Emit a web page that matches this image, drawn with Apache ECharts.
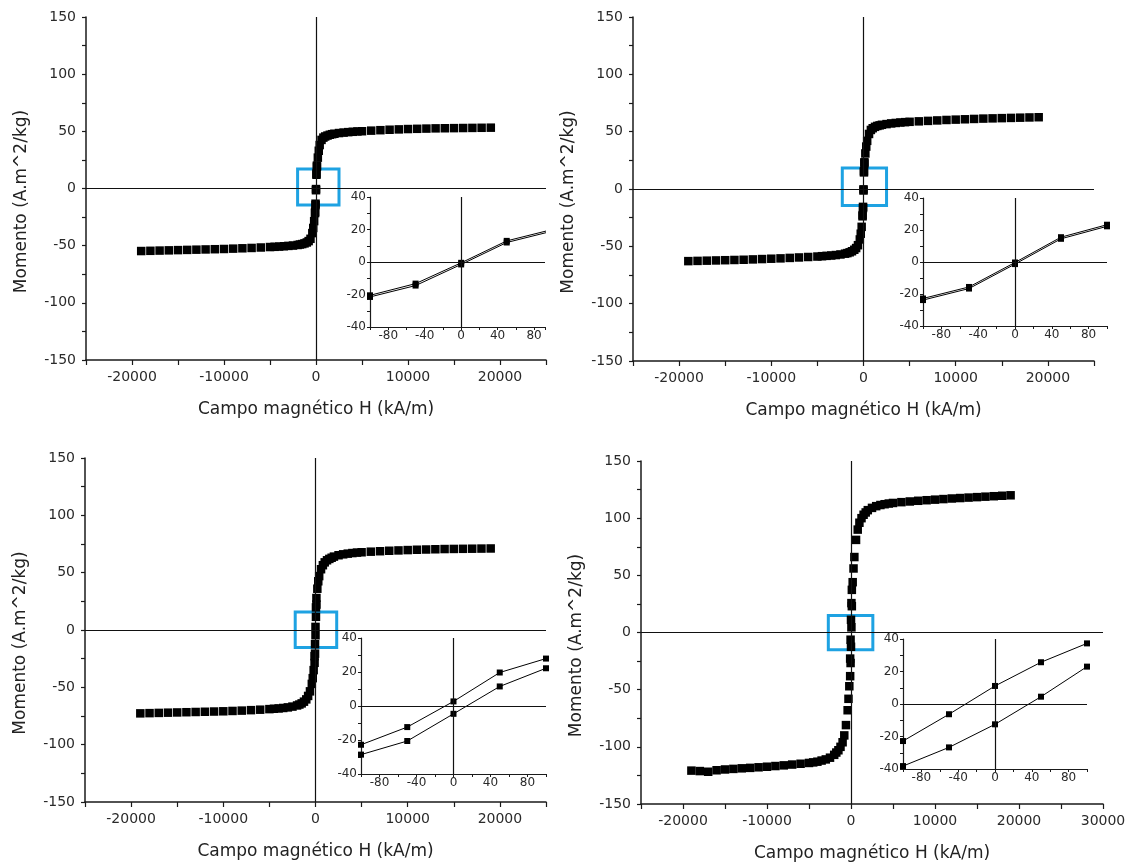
<!DOCTYPE html>
<html><head><meta charset="utf-8">
<script src="https://cdn.jsdelivr.net/npm/echarts/dist/echarts.min.js"></script>
<style>html,body{margin:0;padding:0;background:#fff}#c{width:1134px;height:865px}</style>
</head><body><div id="c"></div>
<script>
// Field values H (kA/m) of the main loops (points with |H| <= 100 come from the inset arrays)
const hMain = [-19000,-18000,-17000,-16000,-15000,-14000,-13000,-12000,-11000,-10000,-9000,-8000,-7000,-6000,-5000,
  -4500,-4000,-3500,-3000,-2500,-2000,-1750,-1500,-1250,-1000,-800,-600,-400,-300,-200,
  200,300,400,600,800,1000,1250,1500,1750,2000,2500,3000,3500,4000,4500,
  5000,6000,7000,8000,9000,10000,11000,12000,13000,14000,15000,16000,17000,18000,19000];
// Moment (A.m^2/kg), one array per panel
const momentA = [-54.7,-54.5,-54.3,-54.1,-53.9,-53.7,-53.5,-53.3,-53.1,-52.9,-52.6,-52.3,-52,-51.6,-51.2,
  -51,-50.8,-50.5,-50.2,-49.9,-49.4,-49,-48.6,-48,-47.2,-46,-44,-39,-34.5,-28.5,
  27,33,38,42.5,44.5,45.5,46.3,47,47.5,47.9,48.5,48.9,49.3,49.6,49.9,
  50.1,50.6,51,51.4,51.7,52,52.2,52.4,52.6,52.7,52.8,52.9,53,53.1,53.2];
const momentB = [-62.9,-62.7,-62.5,-62.3,-62.1,-61.9,-61.7,-61.4,-61.1,-60.8,-60.5,-60.1,-59.7,-59.3,-58.9,
  -58.6,-58.3,-58,-57.6,-57.1,-56.4,-55.9,-55.2,-54.3,-53,-51.5,-49,-44,-39,-33,
  31,37,42,48,51.5,53,54.2,55,55.5,56,56.6,57.2,57.6,58,58.3,
  58.6,59,59.4,59.8,60.2,60.5,60.8,61.1,61.4,61.6,61.8,62,62.2,62.4,62.6];
const momentC = [-72.7,-72.5,-72.3,-72.1,-71.9,-71.7,-71.5,-71.3,-71.1,-70.9,-70.6,-70.3,-69.9,-69.5,-69,
  -68.7,-68.4,-68,-67.5,-66.8,-65.8,-65,-64,-62.5,-60.5,-57.5,-53.5,-47,-42,-35,
  36,42.5,47,53,56.5,59,60.8,62,63,64,65.2,66,66.6,67.1,67.5,
  67.8,68.3,68.7,69.1,69.4,69.7,70,70.2,70.4,70.6,70.7,70.8,70.9,71,71.1];
const momentD = [-120.8,-121.2,-121.8,-120.5,-119.8,-119.3,-118.8,-118.4,-117.9,-117.4,-116.8,-116.2,-115.5,-114.8,-114.1,
  -113.6,-113,-112,-111,-109.5,-107,-105,-103,-100,-96,-90,-81,-68,-58,-47,
  44,56,66,81,90,96,100,103,105,107,109,110.5,111.5,112.2,112.8,
  113.3,114,114.6,115.2,115.7,116.2,116.7,117.2,117.6,118,118.4,118.8,119.2,119.6,120];
// Inset (zoom of the loop around the origin)
const hInset = [-100,-50,0,50,100];
const insetA_upper = [-20.5,-13.3,-0.5,13,20];
const insetA_lower = [-21.5,-14.5,-1.5,12,19];
const insetB_upper = [-22.8,-15.6,-0.3,15.5,23.3];
const insetB_lower = [-23.8,-16.6,-1.3,14.5,22.3];
const insetC_upper = [-22.8,-12.4,2.7,19.7,27.9];
const insetC_lower = [-28.6,-20.6,-4.6,11.5,22.2];
const insetD_upper = [-22.8,-6.3,11.1,25.7,37.3];
const insetD_lower = [-38.2,-26.7,-12.5,4.5,23];
// Zoom boxes [H1, H2, M1, M2]
const boxA = [-2000,2500,-14.5,17];
const boxB = [-2300,2500,-14.3,18.3];
const boxC = [-2200,2300,-15.2,15.7];
const boxD = [-2700,2600,-15.1,14.8];
// Tick labels
const yTickLabelsMain = [-150,-100,-50,0,50,100,150];
const xTickLabelsMain = [-20000,-10000,0,10000,20000];
const xTickLabelsMain4 = [-20000,-10000,0,10000,20000,30000];
const yTickLabelsInset = [-40,-20,0,20,40];
const xTickLabelsInset = [-80,-40,0,40,80];

const FONT = 'DejaVu Sans';
const panels = [
  {main:{left:86,top:17,width:460,height:343}, inset:{left:370,top:197,width:175,height:130}, xMax:25000, xLabels:xTickLabelsMain, insetXMax:92, m:momentA, up:insetA_upper, low:insetA_lower, box:boxA},
  {main:{left:633,top:17,width:461,height:344}, inset:{left:923,top:198,width:184,height:128}, xMax:25000, xLabels:xTickLabelsMain, insetXMax:100, m:momentB, up:insetB_upper, low:insetB_lower, box:boxB},
  {main:{left:85,top:458,width:461,height:344}, inset:{left:361,top:638,width:185,height:136}, xMax:25000, xLabels:xTickLabelsMain, insetXMax:100, m:momentC, up:insetC_upper, low:insetC_lower, box:boxC},
  {main:{left:641,top:461,width:462,height:343}, inset:{left:903,top:639,width:184,height:130}, xMax:30000, xLabels:xTickLabelsMain4, insetXMax:100, m:momentD, up:insetD_upper, low:insetD_lower, box:boxD}
];

const grid = [], xAxis = [], yAxis = [], series = [];
const zeroLines = (w) => ({silent:true, symbol:['none','none'], label:{show:false}, animation:false,
  lineStyle:{color:'#111', width:w, type:'solid'}, data:[{xAxis:0},{yAxis:0}]});

panels.forEach((p, i) => {
  const gm = grid.length;
  grid.push(Object.assign({containLabel:false}, p.main));
  const gi = grid.length;
  grid.push(Object.assign({containLabel:false}, p.inset));

  xAxis.push({gridIndex:gm, type:'value', min:-25000, max:p.xMax, interval:5000,
    axisLine:{onZero:false, lineStyle:{color:'#1a1a1a', width:1.5}},
    axisTick:{length:5, lineStyle:{color:'#1a1a1a', width:1.2}},
    splitLine:{show:false},
    axisLabel:{margin:10, fontSize:14, fontFamily:FONT, color:'#2a2a2a',
      formatter:(v)=> p.xLabels.includes(v) ? String(v) : ''},
    name:'Campo magnético H (kA/m)', nameLocation:'middle', nameGap:41,
    nameTextStyle:{fontSize:17, fontFamily:FONT, color:'#222'}});
  yAxis.push({gridIndex:gm, type:'value', min:-150, max:150, interval:25,
    axisLine:{onZero:false, lineStyle:{color:'#1a1a1a', width:1.5}},
    axisTick:{length:4, lineStyle:{color:'#1a1a1a', width:1.2}},
    splitLine:{show:false},
    axisLabel:{margin:10, fontSize:14, fontFamily:FONT, color:'#2a2a2a',
      formatter:(v)=> yTickLabelsMain.includes(v) ? String(v) : ''},
    name:'Momento (A.m^2/kg)', nameLocation:'middle', nameGap:56,
    nameTextStyle:{fontSize:17, fontFamily:FONT, color:'#222', padding:[0,26,0,0]}});

  xAxis.push({gridIndex:gi, type:'value', min:-100, max:p.insetXMax, interval:20,
    axisLine:{onZero:false, lineStyle:{color:'#1a1a1a', width:1.2}},
    axisTick:{length:3, lineStyle:{color:'#1a1a1a', width:1}},
    splitLine:{show:false},
    axisLabel:{margin:3, fontSize:12, fontFamily:FONT, color:'#2a2a2a',
      formatter:(v)=> xTickLabelsInset.includes(v) ? String(v) : ''}});
  yAxis.push({gridIndex:gi, type:'value', min:-40, max:40, interval:10,
    axisLine:{onZero:false, lineStyle:{color:'#1a1a1a', width:1.2}},
    axisTick:{length:3, lineStyle:{color:'#1a1a1a', width:1}},
    splitLine:{show:false},
    axisLabel:{margin:4, fontSize:12, fontFamily:FONT, color:'#2a2a2a',
      formatter:(v)=> yTickLabelsInset.includes(v) ? String(v) : ''}});

  const mainData = hMain.map((h, k) => [h, p.m[k]])
    .concat(hInset.map((h, k) => [h, p.up[k]]))
    .concat(hInset.map((h, k) => [h, p.low[k]]));
  series.push({type:'scatter', xAxisIndex:gm, yAxisIndex:gm, symbol:'rect', symbolSize:8.5,
    itemStyle:{color:'#000', opacity:1}, data:mainData, z:3, markLine:zeroLines(1.2)});
  series.push({type:'scatter', xAxisIndex:gm, yAxisIndex:gm, data:[], z:10,
    markArea:{silent:true, itemStyle:{color:'rgba(0,0,0,0)', borderColor:'#1ea2e2', borderWidth:3},
      data:[[{coord:[p.box[0], p.box[2]]},{coord:[p.box[1], p.box[3]]}]]}});
  [p.up, p.low].forEach((arr, j) => {
    series.push({type:'line', xAxisIndex:gi, yAxisIndex:gi, symbol:'rect', symbolSize:6, showSymbol:true,
      showAllSymbol:true, clip:true, lineStyle:{color:'#000', width:1}, itemStyle:{color:'#000', opacity:1},
      data:hInset.map((h, k) => [h, arr[k]]),
      markLine: j === 0 ? zeroLines(1.2) : undefined});
  });
});

const chart = echarts.init(document.getElementById('c'), null, {renderer:'canvas'});
chart.setOption({animation:false, backgroundColor:'#fff', grid, xAxis, yAxis, series});
</script></body></html>
